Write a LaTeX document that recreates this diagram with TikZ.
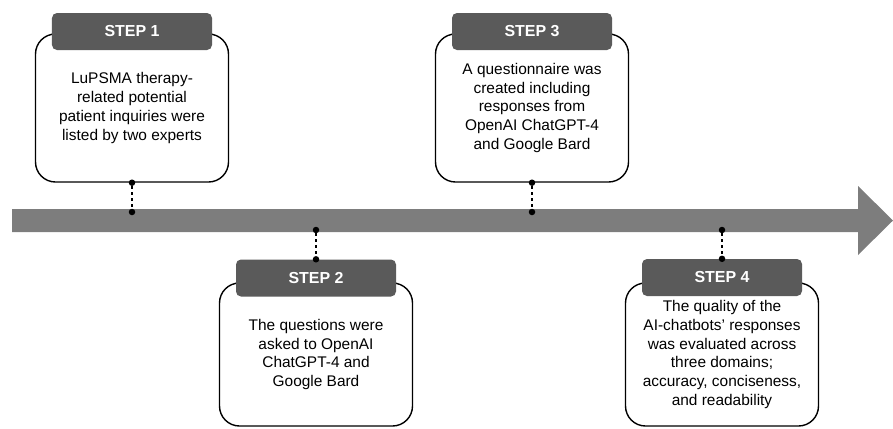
\documentclass[tikz,border=0pt]{standalone}
\usepackage{fontspec}
\setmainfont{Liberation Sans}
\usetikzlibrary{positioning}
\definecolor{headgray}{HTML}{5A5A5A}
\definecolor{shaftgray}{HTML}{7D7D7D}

\begin{document}
\begin{tikzpicture}[
    x=1bp,y=-1bp,
    card/.style={rectangle,draw=black,line width=1.4bp,fill=white,rounded corners=20bp,minimum width=193bp,align=center,inner sep=0pt,font=\fontsize{15.5}{18.8}\selectfont},
    head/.style={rectangle,fill=headgray,rounded corners=5bp,minimum width=160bp,minimum height=37bp,text=white,font=\fontsize{16}{19}\selectfont\bfseries},
    dot/.style={circle,fill=black,inner sep=0pt,minimum size=6.5bp},
    link/.style={line width=1.6bp,dash pattern=on 3bp off 3bp}
]
    \useasboundingbox (0,0) rectangle (893,428);

    % timeline arrow
    \fill[shaftgray] (12,209) -- (858,209) -- (858,186) -- (893,220.5) -- (858,255) -- (858,232) -- (12,232) -- cycle;

    % cards
    \node[card,minimum height=148bp] (card1) at (132,108) {LuPSMA therapy-\\related potential\\patient inquiries were\\listed by two experts};
    \node[card,minimum height=143bp] (card2) at (316,354.5) {The questions were\\asked to OpenAI\\ChatGPT-4 and\\Google Bard};
    \node[card,minimum height=148bp] (card3) at (532,108) {A questionnaire was\\created including\\responses from\\OpenAI ChatGPT-4\\and Google Bard};
    \node[card,minimum height=143bp] (card4) at (722,354.5) {The quality of the\\AI-chatbots' responses\\was evaluated across\\three domains;\\accuracy, conciseness,\\and readability};

    % step headers
    \node[head] (head1) at (132,31.5) {STEP 1};
    \node[head] (head2) at (316,278) {STEP 2};
    \node[head] (head3) at (532,31.5) {STEP 3};
    \node[head] (head4) at (722,277.5) {STEP 4};

    % links to the timeline
    \node[dot] (top1) at (card1.south) {};
    \node[dot] (low1) at (132,212) {};
    \node[dot] (top2) at (316,230) {};
    \node[dot] (low2) at (head2.north) {};
    \node[dot] (top3) at (card3.south) {};
    \node[dot] (low3) at (532,212) {};
    \node[dot] (top4) at (722,230) {};
    \node[dot] (low4) at (head4.north) {};

    \draw[link] (top1) -- (low1);
    \draw[link] (top2) -- (low2);
    \draw[link] (top3) -- (low3);
    \draw[link] (top4) -- (low4);
\end{tikzpicture}
\end{document}
